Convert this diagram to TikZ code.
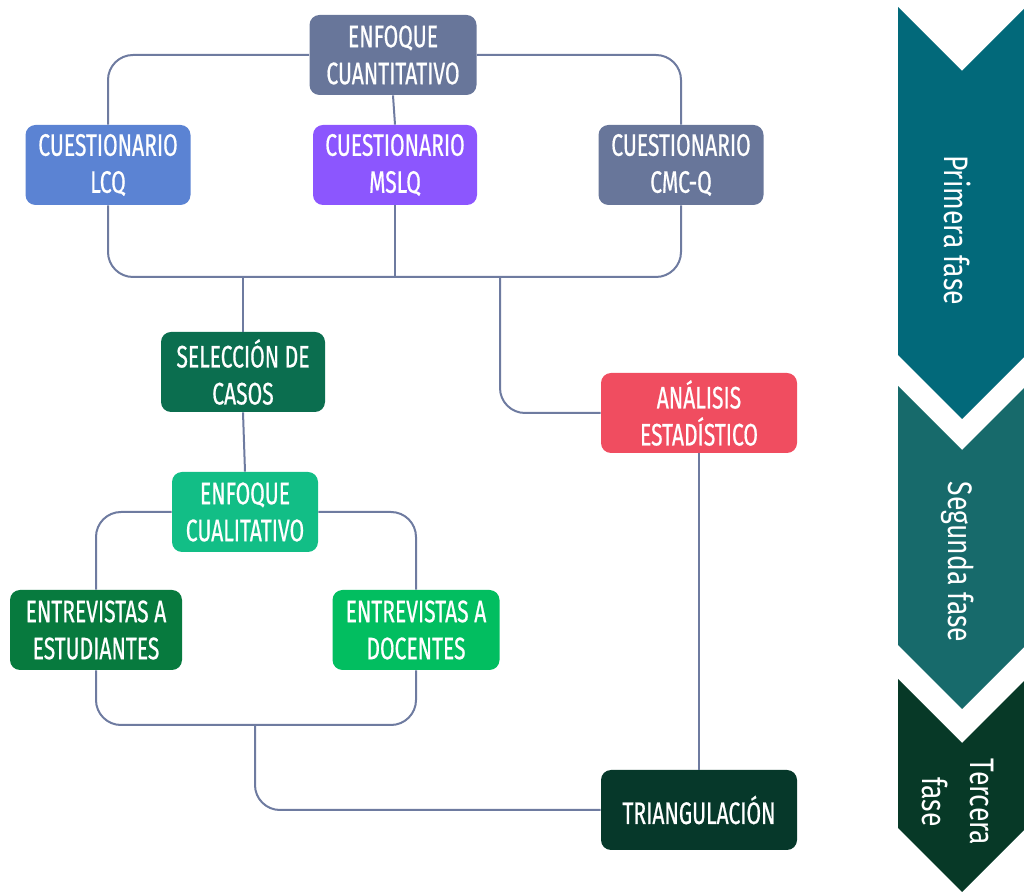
\documentclass[tikz,border=0pt]{standalone}
\usepackage{fontspec}
\setmainfont{Fira Sans}[FakeStretch=0.74]
\newfontfamily\cajafont{Fira Sans}[FakeStretch=0.68, FakeBold=0.6]
\newfontfamily\fasefont{Fira Sans}[FakeStretch=0.78]
\usetikzlibrary{positioning}

\definecolor{pizarra}{HTML}{68769A}
\definecolor{azulLCQ}{HTML}{5B83D3}
\definecolor{violeta}{HTML}{8C56FE}
\definecolor{verdeOsc}{HTML}{0B6E4F}
\definecolor{rojoAn}{HTML}{F04D60}
\definecolor{verdeAgua}{HTML}{12BE86}
\definecolor{verdeEst}{HTML}{077A3E}
\definecolor{verdeDoc}{HTML}{02BE60}
\definecolor{verdeNoche}{HTML}{06382A}
\definecolor{linea}{HTML}{6E7BA0}
\definecolor{faseUno}{HTML}{02697A}
\definecolor{faseDos}{HTML}{176A6B}
\definecolor{faseTres}{HTML}{073927}

\begin{document}
\begin{tikzpicture}[
            x=0.5pt, y=-0.5pt,
            caja/.style={
                    rectangle,
                    rounded corners=5pt,
                    minimum width=82.5pt,
                    minimum height=40pt,
                    inner sep=2pt,
                    align=center,
                    text=white,
                    font=\cajafont\fontsize{15.5}{18.5}\selectfont
                },
            ancha/.style={caja, minimum width=98pt},
            enlace/.style={
                    draw=linea,
                    line width=1pt,
                    rounded corners=12.5pt
                },
            fase/.style={
                    text=white,
                    rotate=-90,
                    align=center,
                    font=\fasefont\fontsize{17}{24}\selectfont
                }
            ]
            \useasboundingbox (0,0) rectangle (1024,892);

            % Enfoque cuantitativo
            \node[caja, fill=pizarra, minimum width=83.5pt] (cuanti) at (393,55)
            {ENFOQUE\\CUANTITATIVO};
            \node[caja, fill=azulLCQ] (lcq) at (108,165)
            {CUESTIONARIO\\LCQ};
            \node[caja, fill=violeta, minimum width=82pt] (mslq) at (395,165)
            {CUESTIONARIO\\MSLQ};
            \node[caja, fill=pizarra] (cmc) at (681,165)
            {CUESTIONARIO\\CMC-Q};
            \coordinate (baseQ) at (395,277);
            \coordinate (baseA) at (500,277);

            \draw[enlace] (cuanti.west) -| (lcq.north);
            \draw[enlace] (cuanti.east) -| (cmc.north);
            \draw[enlace] (cuanti.south) -- (mslq.north);
            \draw[enlace] (lcq.south) |- (baseQ) -| (cmc.south);
            \draw[enlace] (mslq.south) -- (baseQ);

            % Seleccion y analisis
            \node[caja, fill=verdeOsc, minimum width=82pt] (seleccion) at (243,372)
            {SELECCIÓN DE\\CASOS};
            \node[ancha, fill=rojoAn] (analisis) at (699,413)
            {ANÁLISIS\\ESTADÍSTICO};
            \draw[enlace] (seleccion.north |- baseQ) -- (seleccion.north);
            \draw[enlace] (baseA) |- (analisis.west);

            % Enfoque cualitativo
            \node[caja, fill=verdeAgua, minimum width=73pt] (cuali) at (245,512)
            {ENFOQUE\\CUALITATIVO};
            \node[caja, fill=verdeEst, minimum width=86pt] (estud) at (96,630)
            {ENTREVISTAS A\\ESTUDIANTES};
            \node[caja, fill=verdeDoc, minimum width=83.5pt] (docent) at (416,630)
            {ENTREVISTAS A\\DOCENTES};
            \coordinate (baseL) at (255,725);

            \draw[enlace] (seleccion.south) -- (cuali.north);
            \draw[enlace] (cuali.west) -| (estud.north);
            \draw[enlace] (cuali.east) -| (docent.north);
            \draw[enlace] (estud.south) |- (baseL) -| (docent.south);

            % Triangulacion
            \node[ancha, fill=verdeNoche] (triang) at (699,810)
            {TRIANGULACIÓN};
            \draw[enlace] (baseL) |- (triang.west);
            \draw[enlace] (analisis.south) -- (triang.north);

            % Fases
            \fill[faseUno] (898,7) -- (962,71) -- (1026,7) -- (1026,355)
            -- (962,419) -- (898,355) -- cycle;
            \fill[faseDos] (898,386) -- (962,450) -- (1026,386) -- (1026,645)
            -- (962,709) -- (898,645) -- cycle;
            \fill[faseTres] (898,679) -- (962,743) -- (1026,679) -- (1026,828)
            -- (962,892) -- (898,828) -- cycle;
            \node[fase] (uno) at (958,230) {Primera fase};
            \node[fase] (dos) at (958,562) {Segunda fase};
            \node[fase] (tres) at (958,802) {Tercera\\fase};

        \end{tikzpicture}
\end{document}
